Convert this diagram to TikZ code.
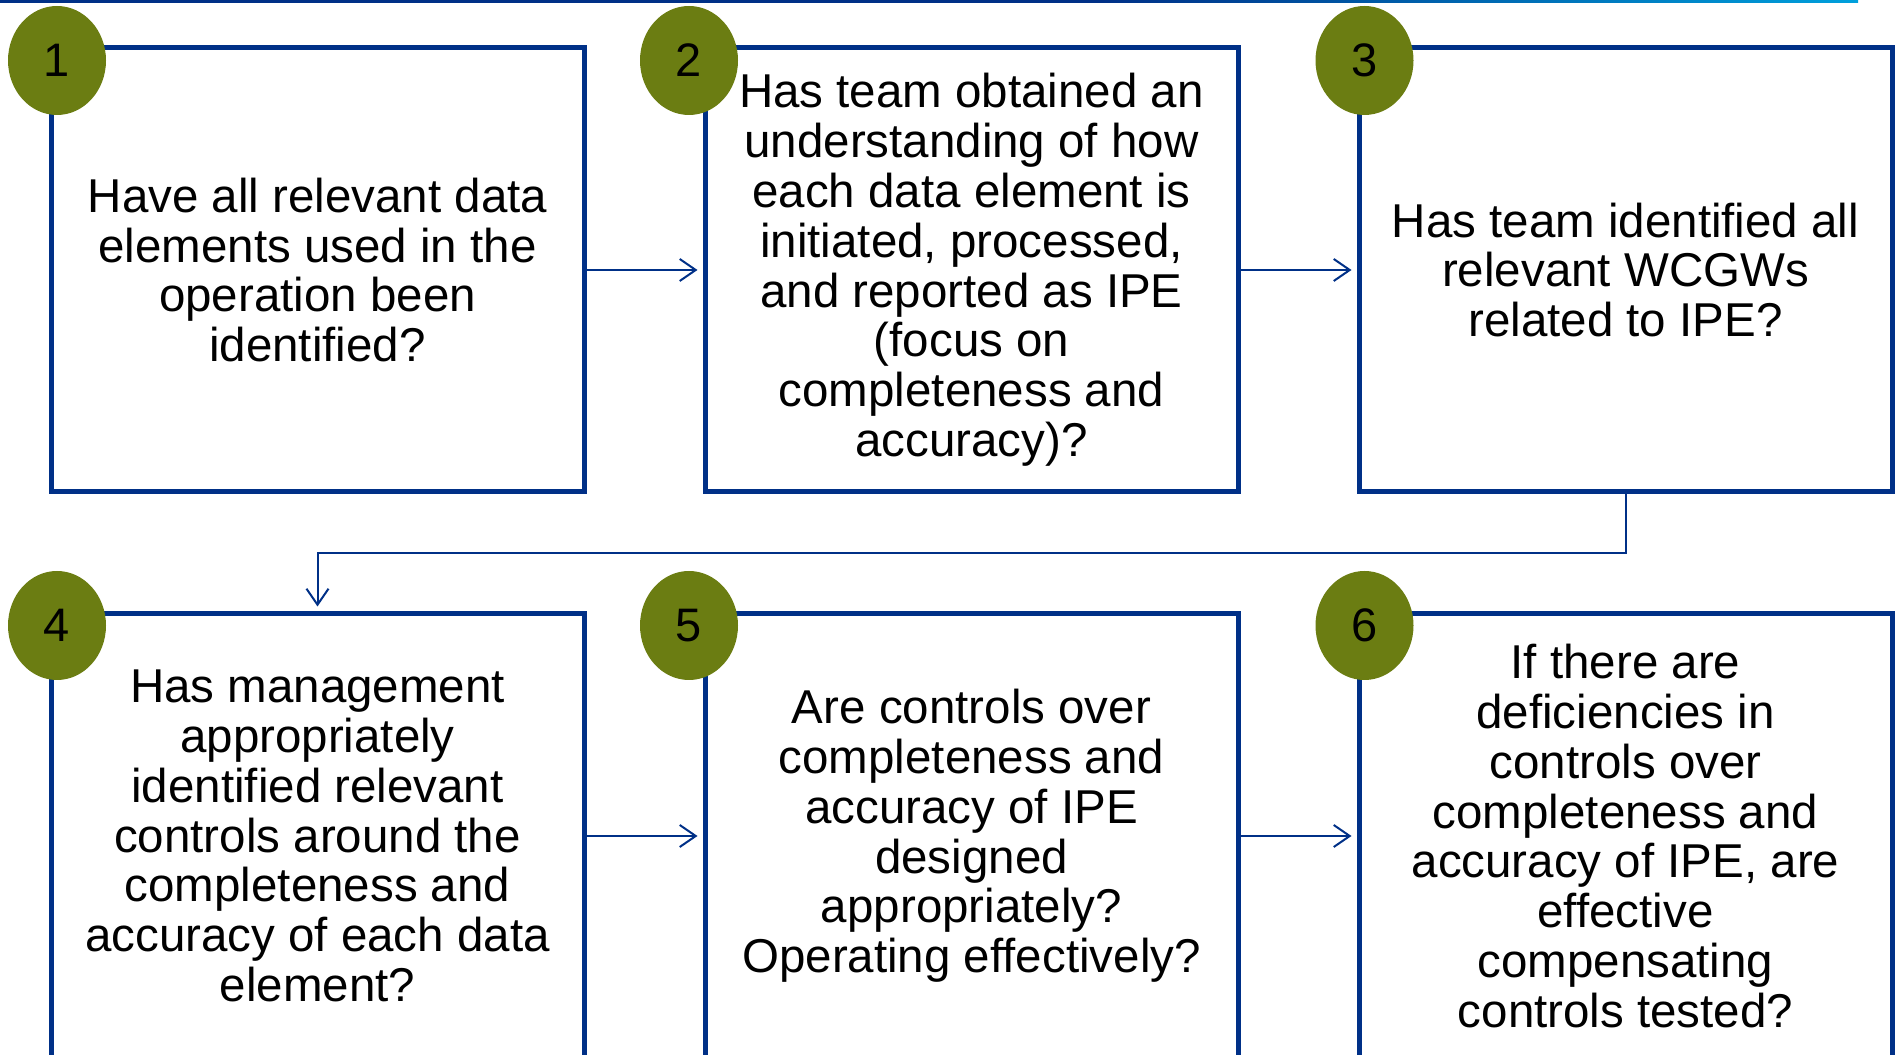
\documentclass[tikz,border=0pt]{standalone}
\usepackage{fontspec}
\setmainfont{Liberation Sans}
\usetikzlibrary{shapes.geometric,arrows.meta}
\definecolor{stepblue}{HTML}{003087}
\definecolor{stepgreen}{HTML}{6B7D12}
\definecolor{barlight}{HTML}{00A0DC}

\begin{document}
\begin{tikzpicture}[x=1pt,y=1pt,
    qbox/.style={draw=stepblue,line width=5pt,minimum width=533pt,minimum height=444pt,
        inner sep=0pt,align=center,font=\fontsize{47.5pt}{49.8pt}\selectfont},
    qnum/.style={ellipse,fill=stepgreen,minimum width=98pt,minimum height=109pt,
        inner sep=0pt,font=\fontsize{47pt}{49pt}\selectfont},
    qarrow/.style={stepblue,line width=2pt,-{Straight Barb[length=16pt,width=22pt]},shorten >=5pt}]
        \clip (0,0) rectangle (1896,1055);
        \fill[stepblue] (0,1052) rectangle (1100,1055);
        \shade[left color=stepblue,right color=barlight] (1100,1052) rectangle (1858,1055);

        \node[qbox] (box1) at (317.5,785) {Have all relevant data\\elements used in the\\operation been\\identified?};
        \node[qbox] (box2) at (971.5,785) {Has team obtained an\\understanding of how\\each data element is\\initiated, processed,\\and reported as IPE\\(focus on\\completeness and\\accuracy)?};
        \node[qbox] (box3) at (1625.5,785) {Has team identified all\\relevant WCGWs\\related to IPE?};
        \node[qbox] (box4) at (317.5,219) {Has management\\appropriately\\identified relevant\\controls around the\\completeness and\\accuracy of each data\\element?};
        \node[qbox] (box5) at (971.5,219) {Are controls over\\completeness and\\accuracy of IPE\\designed\\appropriately?\\Operating effectively?};
        \node[qbox] (box6) at (1625.5,219) {If there are\\deficiencies in\\controls over\\completeness and\\accuracy of IPE, are\\effective\\compensating\\controls tested?};

        \node[qnum] (num1) at (57,994.5) {1};
        \node[qnum] (num2) at (689,994.5) {2};
        \node[qnum] (num3) at (1364.5,994.5) {3};
        \node[qnum] (num4) at (57,429.5) {4};
        \node[qnum] (num5) at (689,429.5) {5};
        \node[qnum] (num6) at (1364.5,429.5) {6};

        \coordinate (turn) at (1625.5,502);
        \draw[qarrow] (box1) -- (box2);
        \draw[qarrow] (box2) -- (box3);
        \draw[qarrow] (box3.south) -- (turn) -| (box4.north);
        \draw[qarrow] (box4) -- (box5);
        \draw[qarrow] (box5) -- (box6);
\end{tikzpicture}
\end{document}
